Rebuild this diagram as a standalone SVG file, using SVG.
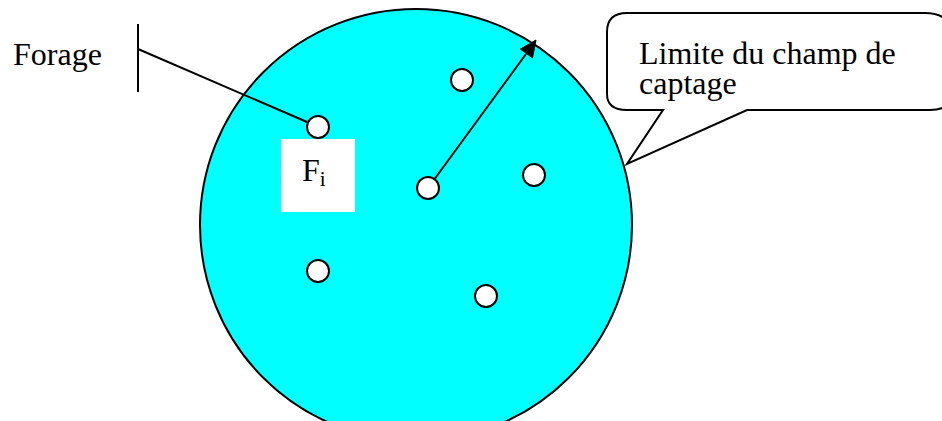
<svg xmlns="http://www.w3.org/2000/svg" width="942" height="421" viewBox="0 0 942 421">
<style>
text{font-family:"Liberation Serif","Times New Roman",serif;font-size:32px;fill:#000}
.well{fill:#fff;stroke:#000;stroke-width:2}
.ln{stroke:#000;stroke-width:2;fill:none}
</style>
<rect width="942" height="421" fill="#fff"/>
<g id="champ">
<circle cx="416" cy="225" r="216" fill="#00ffff" stroke="#000" stroke-width="2"/>
</g>
<g id="fi-label">
<rect x="281" y="139" width="74" height="73" fill="#fff"/>
<text x="302" y="181">F<tspan font-size="21" dy="5">i</tspan></text>
</g>
<g id="forage-label">
<text x="13" y="65">Forage</text>
</g>
<g id="callout">
<path d="M627,13 L925,13 Q952,13 952,38 L952,92 Q952,110 930,110 L747,110 L627,164 L663,110 L627,110 Q607,110 607,94 L607,32 Q607,13 627,13 Z" fill="#fff" stroke="#000" stroke-width="2" stroke-linejoin="miter"/>
<text x="639" y="64">Limite du champ de<tspan x="639" y="94">captage</tspan></text>
</g>
<g id="connectors">
<line class="ln" x1="138" y1="24" x2="138" y2="92"/>
<line class="ln" x1="138" y1="49" x2="307" y2="122"/>
<line class="ln" x1="428" y1="188" x2="526" y2="54"/>
<path d="M536,40 L532.5,57.9 L520.4,49.1 Z" fill="#000" stroke="#000" stroke-width="1"/>
</g>
<g id="wells">
<circle id="w1" class="well" cx="318" cy="127" r="11"/>
<circle id="w2" class="well" cx="462" cy="80" r="11"/>
<circle id="w3" class="well" cx="428" cy="188" r="11"/>
<circle id="w4" class="well" cx="534" cy="175" r="11"/>
<circle id="w5" class="well" cx="318" cy="271" r="11"/>
<circle id="w6" class="well" cx="486" cy="296" r="11"/>
</g>
</svg>
